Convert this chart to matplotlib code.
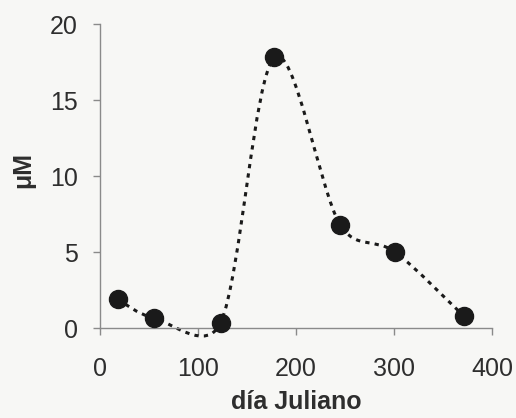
import numpy as np
import matplotlib
matplotlib.use('Agg')
import matplotlib.pyplot as plt
from matplotlib.path import Path
from matplotlib.patches import PathPatch

# sampling days and concentration
dia = [18, 55, 123, 178, 245, 301, 371]
conc = [1.9, 0.66, 0.33, 17.8, 6.8, 5.0, 0.8]
xticks = [0, 100, 200, 300, 400]
yticks = [0, 5, 10, 15, 20]

plt.rcParams['font.family'] = ['Liberation Sans', 'DejaVu Sans']

bg = '#f7f7f5'
axcol = '#8a8a8a'
txtcol = '#2e2e2e'


def smooth_path(ax, xs, ys):
    # bezier "smoothed line", control arms capped at half the segment length
    pts = ax.transData.transform(np.column_stack([xs, ys]))
    n = len(pts)
    verts = [pts[0]]
    codes = [Path.MOVETO]
    for i in range(n - 1):
        p0 = pts[max(i - 1, 0)]
        p1 = pts[i]
        p2 = pts[i + 1]
        p3 = pts[min(i + 2, n - 1)]
        d12 = np.hypot(*(p2 - p1))
        d02 = np.hypot(*(p2 - p0))
        d13 = np.hypot(*(p3 - p1))
        f0 = min(1 / 6, d12 / 2 / d02) if d02 > 0 else 0
        f1 = min(1 / 6, d12 / 2 / d13) if d13 > 0 else 0
        verts += [p1 + (p2 - p0) * f0, p2 - (p3 - p1) * f1, p2]
        codes += [Path.CURVE4] * 3
    verts = ax.transData.inverted().transform(np.array(verts))
    return Path(verts, codes)


fig = plt.figure(figsize=(5.16, 4.18), dpi=100, facecolor=bg)
ax = fig.add_axes([100 / 516, 90 / 418, 392 / 516, 304 / 418], facecolor=bg)
ax.set_xlim(0, 400)
ax.set_ylim(0, 20)

for s in ['top', 'right']:
    ax.spines[s].set_visible(False)
for s in ['left', 'bottom']:
    ax.spines[s].set_color(axcol)
    ax.spines[s].set_linewidth(1.0)

ax.set_xticks(xticks)
ax.set_yticks(yticks)
ax.tick_params(axis='both', direction='out', length=5, width=1, color=axcol,
               labelcolor=txtcol, labelsize=18)
ax.tick_params(axis='x', pad=16)
ax.tick_params(axis='y', pad=11)

curve = PathPatch(smooth_path(ax, dia, conc), facecolor='none', edgecolor='#1a1a1a',
                  linewidth=2.2, linestyle=(0, (1.4, 1.7)), clip_on=False, zorder=2)
ax.add_patch(curve)
ax.plot(dia, conc, 'o', color='#1a1a1a', markersize=13, clip_on=False, zorder=3)

ax.set_xlabel('día Juliano', fontsize=18, fontweight='bold', color=txtcol)
ax.xaxis.set_label_coords(0.5, -0.205)
ax.set_ylabel('μM', fontsize=18, fontweight='bold', color=txtcol)
ax.yaxis.set_label_coords(-0.165, 0.52)

fig.savefig('out.png', dpi=100, facecolor=bg)
